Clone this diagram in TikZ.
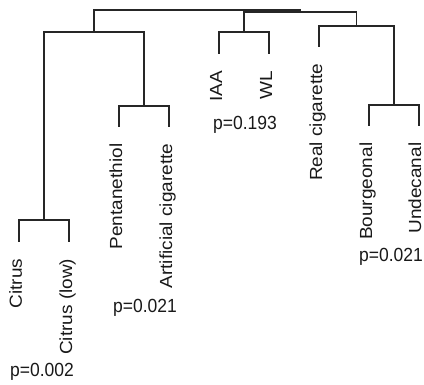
\documentclass[tikz,border=0pt]{standalone}
\usepackage{graphicx}
\usepackage{fontspec}
\setmainfont{Liberation Sans}

% the source figure is a little taller than wide
\newcommand{\leaftext}[1]{\scalebox{1.086}[1]{#1}}
\newcommand{\ptext}[1]{\scalebox{1}[1.086]{#1}}

\begin{document}
\begin{tikzpicture}[x=1pt, y=-1pt,
  branch/.style={draw=black!85, line width=1.1pt},
  leaflabel/.style={rotate=90, anchor=base east, inner sep=0pt, text=black!90,
    font=\fontsize{17.5}{20}\selectfont},
  pval/.style={anchor=base, inner sep=0pt, text=black!90,
    font=\fontsize{17.5}{20}\selectfont}]
\useasboundingbox (0,0) rectangle (424,385);

% Leaf tips
\coordinate (citrus)    at (19,242);
\coordinate (citruslow) at (69,242);
\coordinate (penta)     at (119,127);
\coordinate (artcig)    at (169,127);
\coordinate (iaa)       at (219,54);
\coordinate (wl)        at (269,54);
\coordinate (realcig)   at (319,47);
\coordinate (bourg)     at (369,126);
\coordinate (undec)     at (419,126);

% Merge points (x = middle of children, y = height)
\coordinate (mcitrus) at (44,220);
\coordinate (mpenta)  at (144,106);
\coordinate (mleft)   at (94,32);
\coordinate (mwl)     at (244,32);
\coordinate (mbourg)  at (394,105);
\coordinate (mreal)   at (356.5,26);
\coordinate (mright)  at (300,12);
\coordinate (root)    at (197,10);

% Branches
\draw[branch] (citrus) |- (mcitrus) -| (citruslow);
\draw[branch] (penta) |- (mpenta) -| (artcig);
\draw[branch] (mcitrus) |- (mleft) -| (mpenta);
\draw[branch] (iaa) |- (mwl) -| (wl);
\draw[branch] (bourg) |- (mbourg) -| (undec);
\draw[branch] (realcig) |- (mreal) -| (mbourg);
\draw[branch] (mwl) |- (mright) -| (mreal);
\draw[branch] (mleft) |- (root) -| (mright);

% Leaf labels (rotated, hanging below the tips)
\node[leaflabel] (citruslab)    at ([shift={(3,16.5)}]citrus)    {\leaftext{Citrus}};
\node[leaflabel] (citruslowlab) at ([shift={(3,16.5)}]citruslow) {\leaftext{Citrus (low)}};
\node[leaflabel] (pentalab)     at ([shift={(3,16.5)}]penta)     {\leaftext{Pentanethiol}};
\node[leaflabel] (artciglab)    at ([shift={(3,16.5)}]artcig)    {\leaftext{Artificial cigarette}};
\node[leaflabel] (iaalab)       at ([shift={(3,16.5)}]iaa)       {\leaftext{IAA}};
\node[leaflabel] (wllab)        at ([shift={(3,16.5)}]wl)        {\leaftext{WL}};
\node[leaflabel] (realciglab)   at ([shift={(3,16.5)}]realcig)   {\leaftext{Real cigarette}};
\node[leaflabel] (bourglab)     at ([shift={(3,16.5)}]bourg)     {\leaftext{Bourgeonal}};
\node[leaflabel] (undeclab)     at ([shift={(2,16.5)}]undec)     {\leaftext{Undecanal}};

% p-values under each pair
\node[pval] (pcitrus) at (42,377)  {\ptext{p=0.002}};
\node[pval] (ppenta)  at (145,313) {\ptext{p=0.021}};
\node[pval] (piaa)    at (245,130) {\ptext{p=0.193}};
\node[pval] (pbourg)  at (391,262) {\ptext{p=0.021}};
\end{tikzpicture}
\end{document}
